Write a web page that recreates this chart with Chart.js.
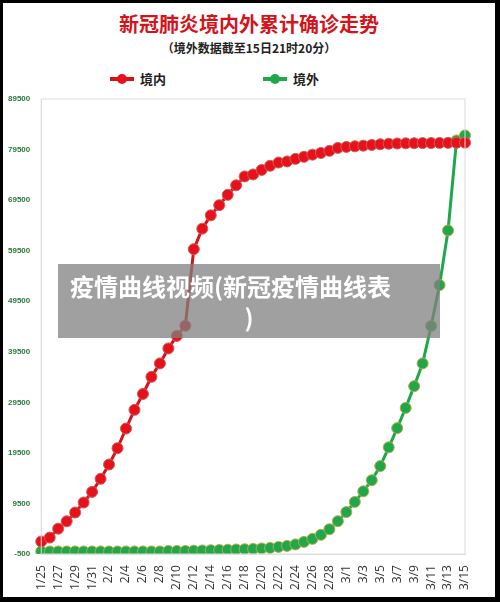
<!DOCTYPE html>
<html><head><meta charset="utf-8">
<script src="https://cdn.jsdelivr.net/npm/chart.js@4"></script>
<style>
body{margin:0;background:#000;}
#wrap{position:absolute;left:3px;top:3px;width:492px;height:594px;background:#fff;font-family:"Noto Sans CJK SC",sans-serif;}
#t1{position:absolute;top:6px;width:100%;text-align:center;color:#d4131b;font-weight:bold;font-size:20px;}
#t2{position:absolute;top:36px;width:100%;text-align:center;color:#222;font-size:12px;font-weight:bold;}
.lg{position:absolute;top:66px;font-size:13px;font-weight:bold;color:#222;display:flex;align-items:center;}
.lg i{display:inline-block;width:24px;height:4px;position:relative;margin-right:6px;}
.lg i b{position:absolute;left:7px;top:-3px;width:10px;height:10px;border-radius:50%;}
#cv{position:absolute;left:0;top:88px;}
#ov{position:absolute;left:55px;top:261px;width:382px;height:74px;background:rgba(128,128,128,0.75);color:#fff;font-weight:bold;font-size:24px;line-height:31px;font-family:"Noto Sans CJK SC",sans-serif;}
</style></head><body>
<div id="wrap">
<div id="t1">新冠肺炎境内外累计确诊走势</div>
<div id="t2">（境外数据截至15日21时20分）</div>
<div class="lg" style="left:107px"><i style="background:#d4131b"><b style="background:#e8101a"></b></i>境内</div>
<div class="lg" style="left:260px"><i style="background:#1fa84a"><b style="background:#1fa84a"></b></i>境外</div>
<canvas id="cv" width="492" height="506"></canvas>
<div id="ov"><div style="padding-left:12px;margin-top:6px">疫情曲线视频(新冠疫情曲线表</div><div style="text-align:center;margin-left:0">)</div></div>
</div>
<script>
const labels=['1/25','1/26','1/27','1/28','1/29','1/30','1/31','2/1','2/2','2/3','2/4','2/5','2/6','2/7','2/8','2/9','2/10','2/11','2/12','2/13','2/14','2/15','2/16','2/17','2/18','2/19','2/20','2/21','2/22','2/23','2/24','2/25','2/26','2/27','2/28','2/29','3/1','3/2','3/3','3/4','3/5','3/6','3/7','3/8','3/9','3/10','3/11','3/12','3/13','3/14','3/15'];
const domestic=[1975,2744,4515,5974,7711,9692,11791,14380,17205,20438,24324,28018,31161,34546,37198,40171,42638,44653,59804,63851,66492,68500,70548,72436,74185,74576,75465,76288,76936,77150,77658,78064,78497,78824,79251,79824,80026,80151,80270,80409,80552,80651,80695,80735,80754,80778,80793,80813,80824,80844,80860];
const overseas=[0,0,0,0,0,0,0,0,0,0,0,0,0,0,0,100,100,100,150,200,250,300,350,400,450,500,600,700,900,1100,1400,1900,2500,3300,4400,6000,7800,9800,11900,14100,16900,20600,24400,28400,32700,37200,44600,52700,63500,81300,82300];
const yTicks=[-500,9500,19500,29500,39500,49500,59500,69500,79500,89500];
const showIdx=i=>i%2===0;
new Chart(document.getElementById('cv'),{type:'line',
data:{labels,datasets:[
{label:'境内',data:domestic,borderColor:'#d4131b',backgroundColor:'#e8101a',pointBorderColor:'#c9605a',borderWidth:3,pointRadius:5.5,pointBorderWidth:1,tension:0},
{label:'境外',data:overseas,borderColor:'#1fa84a',backgroundColor:'#1fa84a',pointBorderColor:'#b8a84a',borderWidth:3,pointRadius:5.5,pointBorderWidth:1,tension:0}]},
options:{responsive:false,animation:false,layout:{padding:{left:2,right:30,top:8,bottom:4}},
plugins:{legend:{display:false},tooltip:{enabled:false}},
scales:{x:{grid:{display:false},border:{color:'#ddd'},offset:false,
 ticks:{autoSkip:false,maxRotation:90,minRotation:90,color:'#333',font:{size:12,family:'Open Sans'},callback:(v,i)=>showIdx(i)?labels[i]:''}},
 y:{min:-500,max:89500,afterBuildTicks:a=>{a.ticks=yTicks.map(v=>({value:v}));},grid:{display:false},border:{color:'#ddd'},
 ticks:{color:'#2a7a3a',font:{size:8,weight:'bold'},padding:3,callback:v=>String(v)}}}},
plugins:[{id:'frame',afterDraw(c){const a=c.chartArea,x=c.ctx;x.save();x.strokeStyle='#ddd';x.strokeRect(a.left,a.top,a.right-a.left,a.bottom-a.top);x.restore();}}]
});
</script></body></html>
